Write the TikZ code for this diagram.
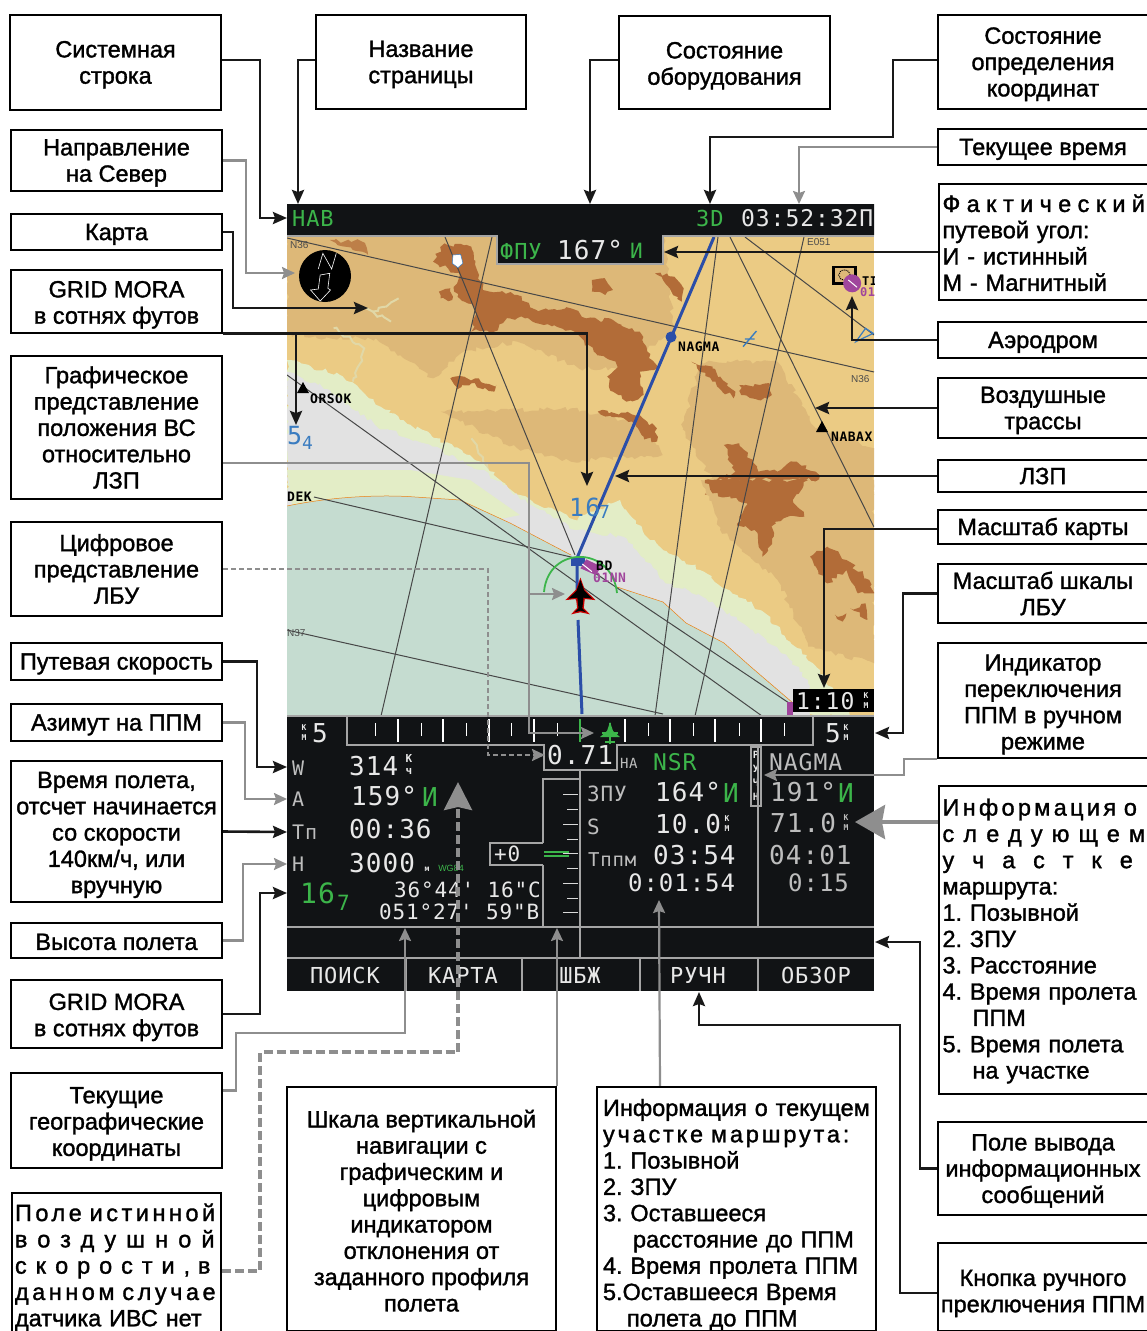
\documentclass[tikz,border=0pt]{standalone}
\usepackage{fontspec}
\setmainfont{Liberation Sans}
\newfontfamily\labfont[FakeBold=1.4]{Liberation Sans}
\newfontfamily\dspfont[LetterSpace=4]{DejaVu Sans Mono}
\usetikzlibrary{arrows.meta, positioning, calc, decorations.pathmorphing}
\definecolor{scr}{HTML}{111315}
\definecolor{grn}{HTML}{3CB54A}
\definecolor{dsp}{HTML}{E8E8E8}
\definecolor{dim}{HTML}{BDBDBD}
\definecolor{gry}{HTML}{8E8E8E}
\definecolor{tanl}{HTML}{EBCB84}
\definecolor{tand}{HTML}{DDB878}
\definecolor{brwn}{HTML}{B26C38}
\definecolor{pale}{HTML}{E3EDC6}
\definecolor{ash}{HTML}{E2E2E2}
\definecolor{sea}{HTML}{C5DCD0}
\definecolor{blu}{HTML}{2B4EA8}
\definecolor{sky}{HTML}{3A7CC0}
\definecolor{pur}{HTML}{A0459C}
\newcommand{\wide}[2]{\mbox{\addfontfeature{LetterSpace=#1}#2}}
\begin{document}
\frenchspacing
\begin{tikzpicture}[x=1pt, y=-1pt, >={Stealth[length=14pt,width=12pt,inset=2pt]},
  lab/.style={draw, line width=2pt, fill=white, align=center, inner sep=4pt, font=\labfont\fontsize{23.5}{26.3}\selectfont},
  tx/.style={execute at begin node={\rule{0pt}{#1pt}}},
  labl/.style={lab, align=left, font=\labfont\fontsize{23.5}{26.3}\selectfont\spaceskip 3.4pt plus 1pt\relax},
  blk/.style={->, line width=2.6pt, draw=black!90},
  gar/.style={->, line width=2.2pt, draw=gry, >={Stealth[length=13pt,width=12pt,inset=2pt]}},
  frm/.style={line width=1.4pt, draw=gry!80!white},
  mapl/.style={line width=1pt, draw=black!72},
  cont/.style={decorate, decoration={random steps, segment length=4pt, amplitude=2.4pt}},
  vein/.style={line width=2pt, cont},
  zmA/.style={shift={(280,195)}, x=0.3827pt, y=-0.3333pt},
  zmB/.style={shift={(280,480)}, x=0.3827pt, y=-0.3333pt},
  d/.style={anchor=west, inner sep=0pt, text=dsp, font=\dspfont\fontsize{26}{26}\selectfont},
  ds/.style={d, font=\dspfont\fontsize{21}{21}\selectfont},
  dm/.style={d, font=\dspfont\bfseries\fontsize{8}{10}\selectfont, align=center, anchor=center},
  mp/.style={anchor=west, inner sep=0pt, font=\dspfont\bfseries\fontsize{13}{13}\selectfont}]
\path[use as bounding box, fill=white] (0,0) rectangle (1147,1331);
\pgfmathsetseed{7}
% map
\begin{scope}
\clip (287,236) rectangle (874,716);
\fill[tanl] (287,236) rectangle (874,716);
\begin{scope}[zmA]
\fill[tand, cont] (17,120) -- (1000,120) -- (1030,400) -- (900,520) -- (780,520) -- (620,440) -- (480,470) -- (400,550) -- (250,430) -- (120,430) -- (17,420) -- cycle;
\fill[tand, cont] (1100,500) -- (1300,500) -- (1400,700) -- (1553,760) -- (1553,900) -- (1150,900) -- (1050,700) -- cycle;
\fill[tand, cont] (420,650) -- (760,640) -- (960,690) -- (1000,780) -- (760,800) -- (620,760) -- cycle;
\draw[tanl, vein] (120,430) -- (260,520) -- (400,560) (560,470) -- (640,520) -- (700,500) (980,560) -- (1050,700) -- (1000,800);
\draw[pale!60!tand, vein] (140,400) -- (220,460) -- (190,560) (240,350) -- (310,310) (200,330) -- (290,380) (500,730) -- (530,800) -- (560,870);
\fill[brwn, cont] (430,145) -- (500,155) -- (520,240) -- (530,285) -- (620,300) -- (670,345) -- (760,340) -- (800,370) -- (870,375) -- (940,410) -- (960,470) -- (985,520) -- (940,530) -- (950,600) -- (905,620) -- (870,590) -- (855,545) -- (880,510) -- (820,470) -- (760,405) -- (660,380) -- (640,370) -- (600,370) -- (560,410) -- (500,410) -- (510,340) -- (455,290) -- (470,240) -- (400,200) -- cycle;
\fill[brwn!75!tand, cont] (130,135) -- (215,140) -- (230,180) -- (190,165) -- (150,150) -- cycle;
\fill[brwn, cont] (415,290) -- (445,280) -- (450,315) -- (420,310) -- cycle;
\fill[brwn, cont] (815,255) -- (840,250) -- (870,285) -- (850,300) -- (815,290) -- cycle;
\fill[brwn, cont] (980,235) -- (1030,245) -- (1055,280) -- (1050,320) -- (1010,270) -- cycle;
\fill[brwn, cont] (445,550) -- (510,550) -- (565,570) -- (560,590) -- (500,565) -- (460,585) -- cycle;
\fill[brwn, cont] (830,650) -- (940,660) -- (985,700) -- (985,740) -- (950,725) -- (920,680) -- (850,665) -- cycle;
\fill[brwn, cont] (1075,500) -- (1130,520) -- (1190,590) -- (1185,610) -- (1130,560) -- (1090,520) -- cycle;
\fill[brwn, cont] (1200,570) -- (1280,570) -- (1285,600) -- (1250,615) -- (1205,600) -- cycle;
\fill[brwn, cont] (1160,750) -- (1200,745) -- (1250,830) -- (1300,830) -- (1340,800) -- (1400,830) -- (1450,900) -- (1110,900) -- (1140,855) -- (1190,830) -- cycle;
\end{scope}
\begin{scope}[zmB]
\fill[tand, cont] (1100,0) -- (1553,0) -- (1553,550) -- (1380,500) -- (1300,300) -- (1150,150) -- cycle;
\fill[brwn, cont] (1110,0) -- (1380,0) -- (1340,60) -- (1370,110) -- (1290,120) -- (1290,170) -- (1260,230) -- (1240,150) -- (1195,130) -- (1220,70) -- (1130,40) -- cycle;
\fill[brwn, cont] (1385,230) -- (1430,200) -- (1480,240) -- (1540,300) -- (1553,340) -- (1510,340) -- (1480,270) -- (1430,310) -- (1400,260) -- cycle;
\fill[brwn, cont] (1450,405) -- (1480,400) -- (1470,425) -- cycle;
\fill[brwn, cont] (1490,385) -- (1530,370) -- (1535,420) -- cycle;
\end{scope}
\fill[pale, cont] (287,360) -- (340,375) -- (400,420) -- (470,455) -- (520,495) -- (575,520) -- (620,500) -- (650,540) -- (700,570) -- (760,610) -- (820,670) -- (850,716) -- (287,716) -- cycle;
\fill[ash, cont] (287,372) -- (330,390) -- (375,425) -- (430,445) -- (480,470) -- (540,510) -- (575,530) -- (624,537) -- (663,580) -- (720,607) -- (777,647) -- (808,680) -- (810,716) -- (287,716) -- cycle;
\fill[pale] (287,470) -- (410,470) -- (470,480) -- (520,515) -- (300,560) -- cycle;
\fill[sea] (287,506) .. controls (340,495) and (390,495) .. (415,497) -- (460,500) -- (510,523) -- (548,543) -- (571,555) -- (617,587) -- (663,602) -- (686,623) -- (724,643) -- (751,667) -- (793,703) -- (793,716) -- (287,716) -- cycle;
\draw[orange!70!brown, line width=0.5pt] (287,506) .. controls (340,495) and (390,495) .. (415,497) -- (460,500) -- (510,523) -- (548,543) -- (571,555) (617,587) -- (663,602) -- (686,623) -- (724,643) -- (751,667) -- (793,703);
% airways
\draw[mapl] (287,238) -- (874,372);
\draw[mapl] (445,237) -- (575,555);
\draw[mapl] (492,237) -- (381,716);
\draw[mapl] (718,237) -- (655,716);
\draw[mapl] (730,237) -- (874,527);
\draw[mapl] (745,237) -- (874,335);
\draw[mapl] (804,237) -- (695,716);
\draw[mapl] (287,375) -- (762,716);
\draw[mapl] (314,497) -- (571,557) -- (789,703);
\draw[mapl] (287,630) -- (663,714);
\draw[blu, line width=3pt] (714,237) -- (577,558) -- (577,600) (578,620) -- (582,714);
\fill[blu] (671,337) circle (5.5);
\fill[blu] (571,558) rectangle (585,566);
% map symbols
\node[mp] (wpn) at (678,347) {NAGMA};
\node[mp] (wpo) at (310,399) {ORSOK};
\node[mp] (wpx) at (831,437) {NABAX};
\node[mp] (wpd) at (287,497) {DEK};
\fill (303,382) -- (309,393) -- (297,393) -- cycle;
\fill (822,421) -- (828,432) -- (816,432) -- cycle;
\node[mp, text=sky, font=\dspfont\fontsize{25}{25}\selectfont] (m54) at (287,436) {5};
\node[mp, text=sky, font=\dspfont\fontsize{18}{18}\selectfont] (m54b) at (302,443) {4};
\node[mp, text=sky, font=\dspfont\fontsize{25}{25}\selectfont] (m167) at (569,507) {16};
\node[mp, text=sky, font=\dspfont\fontsize{18}{18}\selectfont] (m167b) at (599,512) {7};
\node[mp, text=black!70, font=\fontsize{10}{10}\selectfont] (g1) at (290,245) {N36};
\node[mp, text=black!70, font=\fontsize{10}{10}\selectfont] (g2) at (807,242) {E051};
\node[mp, text=black!70, font=\fontsize{10}{10}\selectfont] (g3) at (851,379) {N36};
\node[mp, text=black!70, font=\fontsize{10}{10}\selectfont] (g4) at (287,633) {N37};
\begin{scope}[zmA]
\fill[white, draw=sky, line width=0.5pt] (452,180) -- (472,178) -- (478,205) -- (465,218) -- (450,205) -- cycle;
\draw[sky, line width=1.4pt] (1210,455) -- (1245,408) (1215,432) -- (1240,432);
\draw[sky, line width=1.2pt] (1505,440) -- (1530,400) -- (1550,415) -- cycle;
\fill[black] (1442,212) rectangle (1508,270);
\fill[tand] (1450,220) rectangle (1500,262);
\draw[black, densely dotted, line width=1pt] (1475,240) circle [radius=15];
\fill[pur] (1495,265) circle (9pt);
\draw[white, line width=1pt] (1485,255) -- (1508,277);
\end{scope}
\node[mp, font=\dspfont\bfseries\fontsize{12}{12}\selectfont] (api) at (862,281) {TI};
\node[mp, text=pur, font=\dspfont\bfseries\fontsize{12}{12}\selectfont] (apn) at (860,292) {01};
% compass
\fill[black] (325,276) circle (26);
\begin{scope}[zmA]
\draw[white, line width=0.6pt] (100,222) -- (112,175) -- (135,222) -- (147,175);
\draw[white, line width=0.6pt] (105,240) -- (130,235) -- (125,280) -- (132,285) -- (105,318) -- (80,285) -- (100,282) -- cycle;
\end{scope}
% own position
\begin{scope}[zmB]
\fill[pur] (800,238) -- (840,260) -- (825,285) -- (785,265) -- cycle;
\draw[white, line width=1pt] (790,252) -- (815,275);
\fill[red!80!black, draw=red!80!black, line width=1.2pt] (785,298) -- (795,330) -- (820,358) -- (795,355) -- (792,385) -- (805,400) -- (785,395) -- (765,400) -- (778,385) -- (775,355) -- (750,358) -- (775,330) -- cycle;
\fill[black] (785,300) -- (795,332) -- (816,356) -- (793,353) -- (790,385) -- (800,397) -- (785,392) -- (770,397) -- (780,385) -- (777,353) -- (754,356) -- (775,332) -- cycle;
\end{scope}
\draw[grn, line width=1.8pt] (544,592) .. controls (548,545) and (612,545) .. (617,593);
\node[mp, font=\dspfont\bfseries\fontsize{13}{13}\selectfont] (apb) at (596,566) {BD};
\node[mp, text=pur, font=\dspfont\bfseries\fontsize{13}{13}\selectfont] (apc) at (593,578) {01NN};
\fill[pur] (787,702) rectangle (793,716);
\end{scope}
% top bar
\fill[scr] (287,204) rectangle (874,235) (497,235) rectangle (663,263);
\draw[frm] (287,236) -- (497,236) -- (497,264) -- (663,264) -- (663,236) -- (874,236);
\node[d, text=grn, font=\dspfont\fontsize{22}{22}\selectfont] (nav) at (292,218) {НАВ};
\node[d, text=grn, font=\dspfont\fontsize{22}{22}\selectfont] (eq) at (696,218) {3D};
\node[d, font=\dspfont\fontsize{23}{24}\selectfont] (clk) at (741,218) {03:52:32П};
\node[d, text=grn, font=\dspfont\fontsize{22}{22}\selectfont] (fpu) at (500,251) {ФПУ};
\node[d] (trk) at (557,250) {167°};
\node[d, text=grn, font=\dspfont\fontsize{21}{21}\selectfont] (trki) at (630,251) {И};
% scale readout
\fill[black] (793,689) rectangle (874,712);
\node[ds, font=\dspfont\fontsize{23}{23}\selectfont] (mapsc) at (796,701) {1:10};
\node[dm] (mapkm) at (866,701) {К\\М};
% lower panel
\fill[scr] (287,716) rectangle (874,991);
\draw[frm] (287,716) -- (874,716);
\draw[frm] (347,716) -- (347,745) -- (544,745) -- (544,770) -- (617,770) -- (617,745) -- (813,745) -- (813,716);
\foreach \tx in {398,443,489,534,625,670,715,761}
  \draw[white, line width=1.8pt] (\tx,719) -- (\tx,742);
\foreach \tx in {375,421,466,511,557,648,693,739,784}
  \draw[white, line width=0.6pt] (\tx,723) -- (\tx,736);
\draw[grn, line width=1.8pt] (580,719) -- (580,742);
\draw[grn, line width=1.4pt] (610,723) -- (610,744) (602,733) -- (618,733) (605,742) -- (615,742);
\fill[grn] (610,722) -- (613,731) -- (620,737) -- (600,737) -- (607,731) -- cycle;
\node[dm] (kml) at (304,733) {К\\М};
\node[d] (fsl) at (312,733) {5};
\node[d] (fsr) at (825,733) {5};
\node[dm] (kmr) at (846,733) {К\\М};
\node[d] (lbu) at (547,755) {0.71};
\node[ds, text=dim, font=\dspfont\fontsize{14}{14}\selectfont] (na) at (620,763) {НА};
\node[ds, text=grn, font=\dspfont\fontsize{23}{23}\selectfont] (nsr) at (653,762) {NSR};
\node[ds, text=dim, font=\dspfont\fontsize{20}{20}\selectfont] (tw) at (292,768) {W};
\node[ds, text=dim, font=\dspfont\fontsize{20}{20}\selectfont] (ta) at (292,799) {A};
\node[ds, text=dim, font=\dspfont\fontsize{20}{20}\selectfont] (ttp) at (292,832) {Тп};
\node[ds, text=dim, font=\dspfont\fontsize{20}{20}\selectfont] (th) at (292,864) {H};
\node[d] (vw) at (349,766) {314};
\node[dm, font=\dspfont\bfseries\fontsize{11}{12}\selectfont] (vwu) at (409,764) {К\\ч};
\node[d] (va) at (351,796) {159°};
\node[d, text=grn] (vai) at (422,797) {И};
\node[d] (vt) at (349,829) {00:36};
\node[d] (vh) at (349,863) {3000};
\node[dm] (vhm) at (427,869) {м};
\node[dm, text=grn, font=\fontsize{9}{9}\selectfont] (vwg) at (451,868) {WG84};
\node[d, text=grn, font=\dspfont\fontsize{28}{28}\selectfont] (m16) at (300,893) {16};
\node[ds, text=grn] (m7) at (337,903) {7};
\node[ds] (lat) at (394,890) {36°44' 16"С};
\node[ds] (lon) at (379,912) {051°27' 59"В};
\node[ds, text=dim] (tz) at (587,794) {ЗПУ};
\node[ds, text=dim] (ts) at (587,827) {S};
\node[ds, text=dim, font=\dspfont\fontsize{19}{19}\selectfont] (ttpm) at (588,860) {Тппм};
\node[d] (cz) at (655,792) {164°};
\node[d, text=grn] (czi) at (723,793) {И};
\node[d] (cs) at (655,824) {10.0};
\node[dm] (csk) at (727,824) {К\\М};
\node[d] (ct) at (653,855) {03:54};
\node[ds, font=\dspfont\fontsize{24}{24}\selectfont] (cr) at (628,883) {0:01:54};
\node[ds, text=dim, font=\dspfont\fontsize{23}{23}\selectfont] (nn) at (769,762) {NAGMA};
\node[d, text=dim] (nz) at (770,792) {191°};
\node[d, text=grn] (nzi) at (838,793) {И};
\node[d, text=dim] (ns) at (770,823) {71.0};
\node[dm, text=dim] (nsk) at (846,823) {К\\М};
\node[d, text=dim] (nt) at (769,855) {04:01};
\node[ds, text=dim, font=\dspfont\fontsize{24}{24}\selectfont] (nr) at (788,883) {0:15};
\draw[frm] (751,747) rectangle (761,806);
\node[dm, font=\dspfont\bfseries\fontsize{10}{14}\selectfont] (ruch) at (756,776) {Р\\У\\Ч\\Н};
% vertical scale
\draw[frm] (580,770) -- (580,958) (758,747) -- (758,927);
\draw[frm] (543,843) -- (543,779) -- (580,779) (543,865) -- (543,927);
\draw[frm] (543,843) -- (490,843) -- (490,865) -- (543,865);
\node[ds] (dev) at (494,854) {+0};
\foreach \ty in {794,824,853,883,912}
  \draw[white!85!black, line width=0.8pt] (563,\ty) -- (578,\ty);
\foreach \ty in {809,839,868,898}
  \draw[white!85!black, line width=0.8pt] (567,\ty) -- (578,\ty);
\draw[grn, line width=1.6pt] (544,852) -- (569,852) (544,856) -- (569,856);
% buttons
\draw[frm] (287,927) -- (874,927) (287,958) -- (874,958);
\foreach \bx in {406,522,640,758}
  \draw[frm] (\bx,958) -- (\bx,991);
\node[ds, anchor=center, font=\dspfont\fontsize{22}{22}\selectfont] (b1) at (345,975) {ПОИСК};
\node[ds, anchor=center, font=\dspfont\fontsize{22}{22}\selectfont] (b2) at (463,975) {КАРТА};
\node[ds, anchor=center, font=\dspfont\fontsize{22}{22}\selectfont] (b3) at (580,975) {ШБЖ};
\node[ds, anchor=center, font=\dspfont\fontsize{22}{22}\selectfont] (b4) at (698,975) {РУЧН};
\node[ds, anchor=center, font=\dspfont\fontsize{22}{22}\selectfont] (b5) at (816,975) {ОБЗОР};
% callouts
\node[lab, tx=47.3, minimum width=211pt, minimum height=95pt] (sys) at (115.5,62.5) {Системная\\строка};
\node[lab, tx=47.3, minimum width=210pt, minimum height=94pt] (name) at (421,62) {Название\\страницы};
\node[lab, tx=49.3, minimum width=211pt, minimum height=93pt] (equip) at (724.5,62.5) {Состояние\\оборудования};
\node[lab, tx=73.6, minimum width=210pt, minimum height=94pt] (coord) at (1043,62) {Состояние\\определения\\координат};
\node[lab, tx=47.3, minimum width=211pt, minimum height=61pt] (north) at (116.5,160.5) {Направление\\на Север};
\node[lab, tx=21, minimum width=210pt, minimum height=36pt] (now) at (1043,147) {Текущее время};
\node[lab, tx=21, minimum width=211pt, minimum height=36pt] (chart) at (116.5,232) {Карта};
\node[lab, tx=49.3, minimum width=211pt, minimum height=62pt] (moraa) at (116.5,301.5) {GRID MORA\\в сотнях футов};
\node[labl, tx=19, text width=201pt, minimum height=116pt] (fact) at (1043,242) {\wide{27}{Фактический}\\путевой угол:\\И - истинный\\М - Магнитный};
\node[lab, tx=21, minimum width=210pt, minimum height=36pt] (aero) at (1043,340) {Аэродром};
\node[lab, minimum width=211pt, minimum height=143pt] (graph) at (116.5,427.5) {Графическое\\представление\\положения ВС\\относительно\\ЛЗП};
\node[lab, tx=47.3, minimum width=210pt, minimum height=60pt] (airw) at (1043,408) {Воздушные\\трассы};
\node[lab, minimum width=210pt, minimum height=32pt] (lzp) at (1043,476) {ЛЗП};
\node[lab, tx=21, minimum width=210pt, minimum height=28pt] (scl) at (1043,527) {Масштаб карты};
\node[lab, minimum width=211pt, minimum height=94pt] (digit) at (116.5,569) {Цифровое\\представление\\ЛБУ};
\node[lab, minimum width=210pt, minimum height=59pt] (lbus) at (1043,593.5) {Масштаб шкалы\\ЛБУ};
\node[lab, tx=21, minimum width=211pt, minimum height=37pt] (speed) at (116.5,661.5) {Путевая скорость};
\node[lab, tx=102.9, minimum width=210pt, minimum height=113pt] (indic) at (1043,700.5) {Индикатор\\переключения\\ППМ в ручном\\режиме};
\node[lab, tx=21, minimum width=211pt, minimum height=37pt] (azim) at (116.5,722.5) {Азимут на ППМ};
\node[lab, tx=128.2, minimum width=211pt, minimum height=139pt] (ftime) at (116.5,831.5) {Время полета,\\отсчет начинается\\со скорости\\140км/ч, или\\вручную};
\node[labl, tx=19, text width=201pt, minimum height=308pt] (next) at (1043,940) {\wide{14}{Информация о}\\\wide{39}{следующем}\\\wide{76}{участке}\\маршрута:\\1. Позывной\\2. ЗПУ\\3. Расстояние\\4. Время пролета\\\hspace*{30pt}ППМ\\5. Время полета\\\hspace*{30pt}на участке};
\node[lab, tx=19, minimum width=211pt, minimum height=35pt] (alt) at (116.5,940.5) {Высота полета};
\node[lab, tx=49.3, minimum width=211pt, minimum height=68pt] (morab) at (116.5,1014) {GRID MORA\\в сотнях футов};
\node[lab, tx=75.6, minimum width=211pt, minimum height=95pt] (geo) at (116.5,1120.5) {Текущие\\географические\\координаты};
\node[lab, tx=73.6, minimum width=210pt, minimum height=93pt] (msg) at (1043,1168.5) {Поле вывода\\информационных\\сообщений};
\node[labl, tx=27, text width=203pt, inner xsep=3pt, inner ysep=1pt, minimum height=137pt] (air) at (116.5,1262.5) {\wide{15}{Поле истинной}\\\wide{43}{воздушной}\\\wide{38}{скорости, в}\\\wide{15}{данном случае}\\датчика ИВС нет};
\node[lab, tx=205.1, minimum width=269pt, minimum height=244pt] (vert) at (421.5,1209) {Шкала вертикальной\\навигации с\\графическим и\\цифровым\\индикатором\\отклонения от\\заданного профиля\\полета};
\node[labl, tx=29, text width=267pt, inner xsep=6pt, inner ysep=0pt, minimum height=244pt] (curr) at (736.5,1209) {Информация о текущем\\\wide{12}{участке маршрута:}\\1. Позывной\\2. ЗПУ\\3. Оставшееся\\\hspace*{30pt}расстояние до ППМ\\4. Время пролета ППМ\\5.Оставшееся Время\\\hspace*{24pt}полета до ППМ};
\node[lab, tx=55.3, minimum width=210pt, minimum height=88pt, inner xsep=1pt] (btn) at (1043,1287) {Кнопка ручного\\преключения ППМ};
% connector ends
\coordinate (tnav) at (287,218);
\coordinate (tname) at (298,204);
\coordinate (teq) at (590,204);
\coordinate (tfix) at (710,204);
\coordinate (tclk) at (799,204);
\coordinate (tnor) at (295,273);
\coordinate (tmap) at (368,308);
\coordinate (tmo) at (296,425);
\coordinate (tlz) at (587,486);
\coordinate (tdg) at (545,755);
\coordinate (tpos) at (565,594);
\coordinate (tbar) at (594,733);
\coordinate (tfct) at (664,252);
\coordinate (taer) at (852,296);
\coordinate (tawy) at (815,408);
\coordinate (tlzp) at (615,476);
\coordinate (tscl) at (824,688);
\coordinate (tlbu) at (875,733);
\coordinate (tind) at (764,775);
\coordinate (tnxt) at (855,822);
\coordinate (tmsg) at (875,942);
\coordinate (tbtn) at (699,992);
\coordinate (tcur) at (659,900);
\coordinate (tver) at (557,928);
\coordinate (tgeo) at (405,928);
\coordinate (tias) at (458,782);
\coordinate (tw) at (287,767);
\coordinate (ta) at (287,799);
\coordinate (tt) at (287,832);
\coordinate (th) at (287,864);
\coordinate (tm) at (287,893);
% connectors
\draw[blk] ([yshift=2.5pt]sys.east) -| (260,218) -- (tnav);
\draw[blk] ([yshift=2pt]name.west) -| (tname);
\draw[blk] ([yshift=2.5pt]equip.west) -| (teq);
\draw[blk] ([yshift=2pt]coord.west) -| (893,137) -| (tfix);
\draw[gar] (now.west) -| (tclk);
\draw[gar] (north.east) -| (246,273) -- (tnor);
\draw[blk] (chart.east) -| (233,308) -- (tmap);
\draw[blk] (moraa.south east) -| (tlz);
\draw[blk] (296,333) -- (tmo);
\draw[gar] ([yshift=-35.5pt]graph.east) -| (529,733) -- (tbar);
\draw[gar] (529,594) -- (tpos);
\draw[gar, dash pattern=on 5pt off 3pt] (digit.east) -| (488,755) -- (tdg);
\draw[blk] ([yshift=-10pt]fact.west) -- (tfct);
\draw[blk] (aero.west) -| (taer);
\draw[blk] (airw.west) -- (tawy);
\draw[blk] (lzp.west) -- (tlzp);
\draw[blk] ([yshift=-2pt]scl.west) -| (tscl);
\draw[blk] (lbus.west) -| (903,733) -- (tlbu);
\draw[gar] (indic.south west) -| (904,775) -- (tind);
\draw[gar, line width=4pt, >={Stealth[length=30pt,width=34pt,inset=3pt]}] ([yshift=118pt]next.west) -- (tnxt);
\draw[blk] (msg.west) -| (920,942) -- (tmsg);
\draw[blk] ([yshift=-6pt]btn.west) -| (900,1025) -| (tbtn);
\draw[gar] ([xshift=-76.5pt]curr.north) -- (tcur);
\draw[gar] (vert.north east) -- (tver);
\draw[gar] ([yshift=30pt]geo.east) -| (236,1033) -| (tgeo);
\draw[gar, line width=4pt, dash pattern=on 9pt off 4pt, >={Stealth[length=28pt,width=28pt,inset=3pt]}] ([yshift=-8pt]air.east) -| (260,1052) -| (tias);
\draw[blk] (speed.east) -| (257,767) -- (tw);
\draw[gar] (azim.east) -| (245,799) -- (ta);
\draw[blk] (ftime.east) -- (tt);
\draw[gar] (alt.east) -| (243,864) -- (th);
\draw[blk] (morab.east) -| (260,893) -- (tm);
\end{tikzpicture}
\end{document}
